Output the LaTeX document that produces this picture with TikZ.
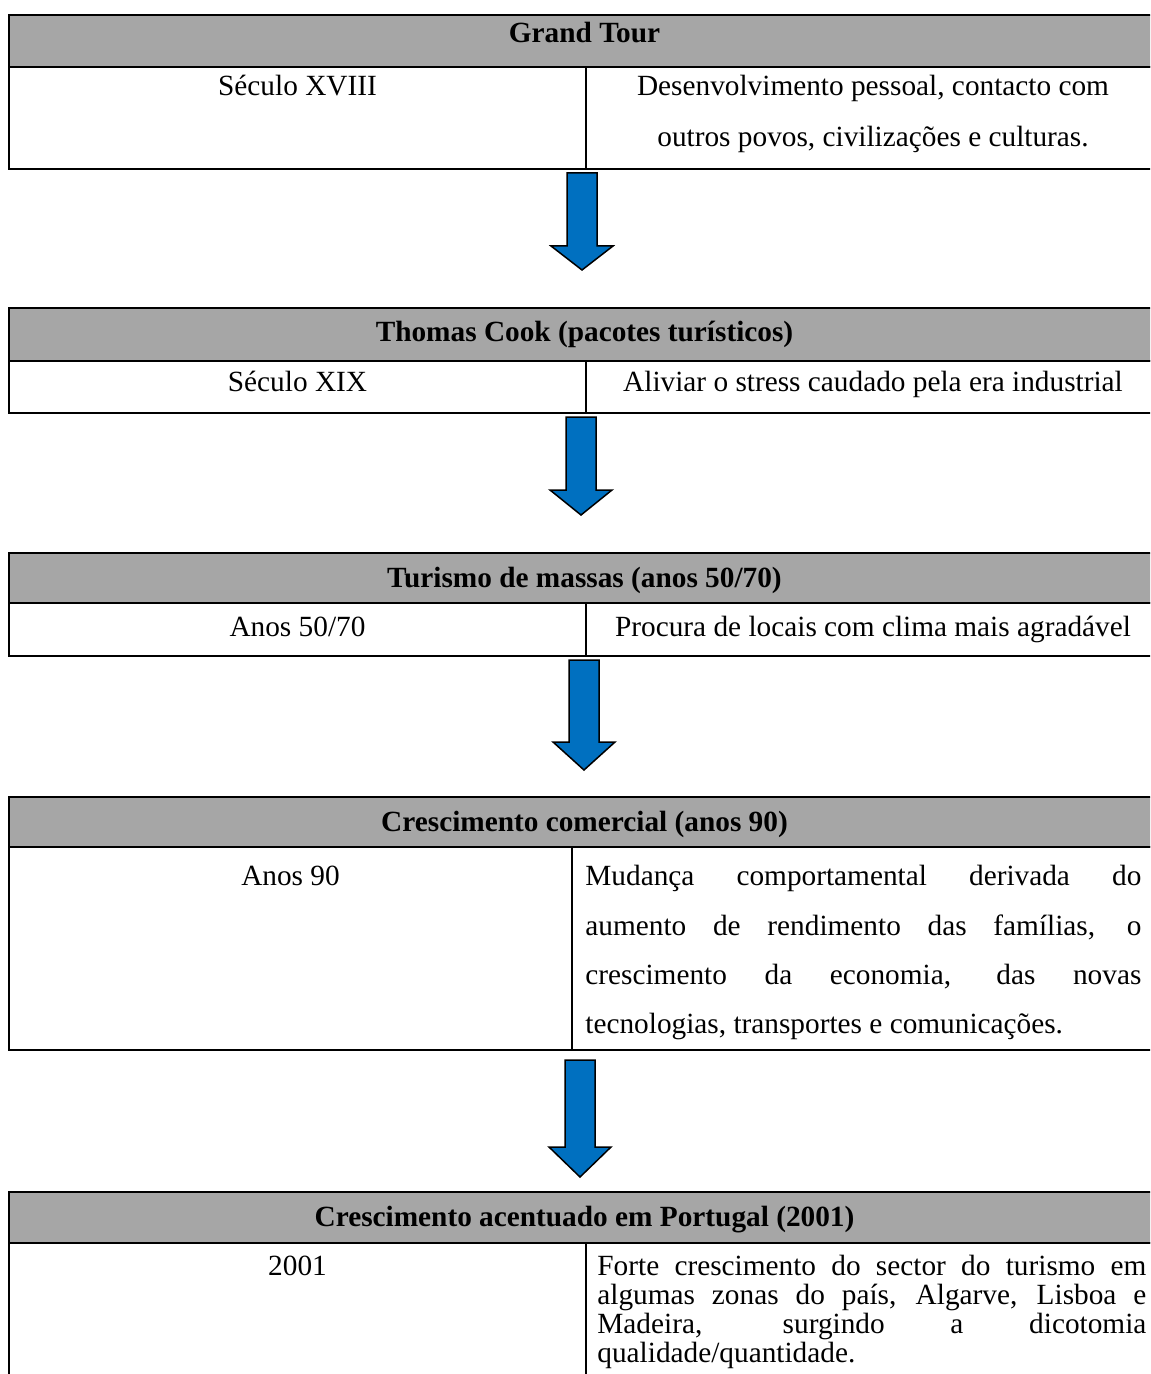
\documentclass[tikz,border=0pt]{standalone}
\usepackage{fontspec}
\setmainfont{Liberation Serif}
\definecolor{hdrgray}{HTML}{A6A6A6}
\definecolor{arrowblue}{HTML}{0070C0}
\newcommand{\tabfont}{\fontsize{14.65pt}{25.5pt}\selectfont}
\newcommand{\blockarrow}[4]{%
  \draw[barrow] ({#1-15},{#2}) -- ({#1+15},{#2}) -- ({#1+15},{#3}) -- ({#1+31},{#3})
    -- ({#1},{#4}) -- ({#1-31},{#3}) -- ({#1-15},{#3}) -- cycle;}
\begin{document}
\begin{tikzpicture}[x=0.5pt,y=-0.5pt,
  hdr/.style={fill=hdrgray,draw=black,line width=1pt},
  cell/.style={draw=black,line width=1pt},
  divider/.style={draw=black,line width=0.8pt},
  txt/.style={anchor=base,inner sep=0pt,font=\tabfont},
  htxt/.style={anchor=base,inner sep=0pt,font=\tabfont\bfseries},
  jtxt/.style={anchor=base west,inner sep=0pt,font=\tabfont},
  barrow/.style={fill=arrowblue,draw=black,line width=0.75pt,line join=miter}]
\useasboundingbox (0,0) rectangle (1150,1374);
\clip (0,0) rectangle (1150,1374);
\fill[white] (0,0) rectangle (1150,1374);

% ---------- Table 1 ----------
\draw[hdr] (9,15) rectangle (1160,67);
\draw[cell] (9,67) rectangle (1160,169);
\draw[divider] (586,67) -- (586,169);
\node[htxt] (t1h) at (584.5,43) {Grand Tour};
\node[txt] (t1l) at (297.5,96) {Século XVIII};
\node[txt] (t1r1) at (873,96) {Desenvolvimento pessoal, contacto com};
\node[txt] (t1r2) at (873,147) {outros povos, civilizações e culturas.};

\blockarrow{582}{173}{246}{270}

% ---------- Table 2 ----------
\draw[hdr] (9,308) rectangle (1160,361);
\draw[cell] (9,361) rectangle (1160,413);
\draw[divider] (586,361) -- (586,413);
\node[htxt] (t2h) at (584.5,342) {Thomas Cook (pacotes turísticos)};
\node[txt] (t2l) at (297.5,391) {Século XIX};
\node[txt] (t2r) at (873,391) {Aliviar o stress caudado pela era industrial};

\blockarrow{581}{417}{490}{515}

% ---------- Table 3 ----------
\draw[hdr] (9,553) rectangle (1160,603);
\draw[cell] (9,603) rectangle (1160,656);
\draw[divider] (586,603) -- (586,656);
\node[htxt] (t3h) at (584.5,587) {Turismo de massas (anos 50/70)};
\node[txt] (t3l) at (297.5,636) {Anos 50/70};
\node[txt] (t3r) at (873,636) {Procura de locais com clima mais agradável};

\blockarrow{584}{660}{742}{770}

% ---------- Table 4 ----------
\draw[hdr] (9,797) rectangle (1160,847);
\draw[cell] (9,847) rectangle (1160,1050);
\draw[divider] (572,847) -- (572,1050);
\node[htxt] (t4h) at (584.5,831) {Crescimento comercial (anos 90)};
\node[txt] (t4l) at (290.5,885) {Anos 90};
\node[jtxt] (t4r1) at (585,885) {\makebox[278pt][s]{Mudança comportamental derivada do}};
\node[jtxt] (t4r2) at (585,935) {\makebox[278pt][s]{aumento de rendimento das famílias, o}};
\node[jtxt] (t4r3) at (585,984) {\makebox[278pt][s]{crescimento da economia, das novas}};
\node[jtxt] (t4r4) at (585,1033) {tecnologias, transportes e comunicações.};

\blockarrow{580}{1060}{1147}{1177}

% ---------- Table 5 ----------
\draw[hdr] (9,1192) rectangle (1160,1243);
\draw[cell] (9,1243) rectangle (1160,1420);
\draw[divider] (586,1243) -- (586,1420);
\node[htxt] (t5h) at (584.5,1226) {Crescimento acentuado em Portugal (2001)};
\node[txt] (t5l) at (297.5,1275) {2001};
\node[jtxt] (t5r1) at (597,1275) {\makebox[274.5pt][s]{Forte crescimento do sector do turismo em}};
\node[jtxt] (t5r2) at (597,1304) {\makebox[274.5pt][s]{algumas zonas do país, Algarve, Lisboa e}};
\node[jtxt] (t5r3) at (597,1333) {\makebox[274.5pt][s]{Madeira, surgindo a dicotomia}};
\node[jtxt] (t5r4) at (597,1362) {qualidade/quantidade.};
\end{tikzpicture}
\end{document}
